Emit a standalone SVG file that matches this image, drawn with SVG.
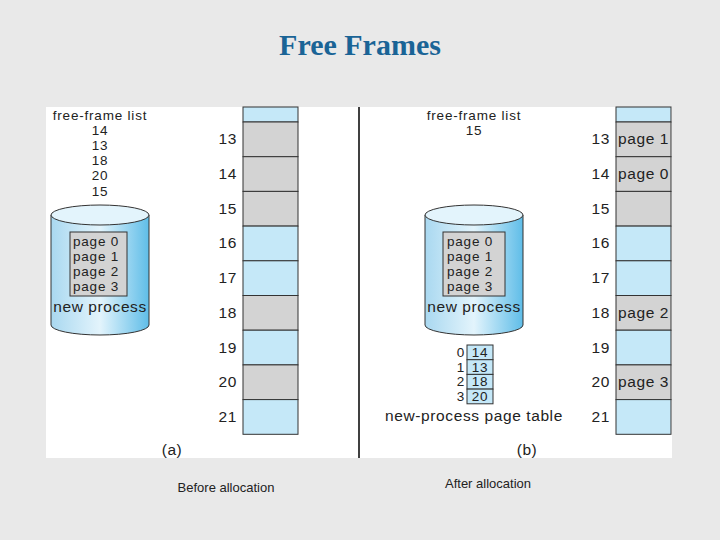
<svg xmlns="http://www.w3.org/2000/svg" width="720" height="540" viewBox="0 0 720 540">
<defs>
<linearGradient id="cyl" x1="0" x2="1" y1="0" y2="0">
<stop offset="0" stop-color="#a9d8f0"/><stop offset="0.5" stop-color="#e3f4fc"/><stop offset="1" stop-color="#5fbde8"/>
</linearGradient>
</defs>
<style>
text{font-family:"Liberation Sans",Arial,sans-serif;font-size:15.5px;letter-spacing:0.6px;fill:#222}
.c{text-anchor:middle}
.r{text-anchor:end}
.t{font-size:13.5px;letter-spacing:0.8px}
.g{fill:#d3d3d3;stroke:#333;stroke-width:1}
.b{fill:#c5e8f8;stroke:#333;stroke-width:1}
.s{font-size:13px;letter-spacing:0}
</style>
<rect width="720" height="540" fill="#e9e9e9"/>
<rect x="46" y="107" width="626" height="351" fill="#fff"/>
<text x="360" y="55" class="c" style="font-family:'Liberation Serif',serif;font-size:30px;letter-spacing:0;font-weight:bold;fill:#1a6496">Free Frames</text>
<g id="connectors"><line x1="359" y1="107" x2="359" y2="458" stroke="#000" stroke-width="1.5"/></g>
<g id="ffl-a"><text x="100" y="120" class="c t">free-frame list</text>
<text x="100" y="135" class="c t">14</text><text x="100" y="150" class="c t">13</text><text x="100" y="165" class="c t">18</text><text x="100" y="180" class="c t">20</text><text x="100" y="196" class="c t">15</text></g>
<g id="disk-a">
<path d="M51 215 V325 A49 10 0 0 0 149 325 V215 Z" fill="url(#cyl)" stroke="#333"/>
<ellipse cx="100" cy="215" rx="49" ry="10" fill="#e3f4fc" stroke="#333"/>
<rect x="70" y="232" width="57" height="64" fill="#d3d3d3" stroke="#333"/>
<text x="73" y="246" class="t">page 0</text><text x="73" y="261" class="t">page 1</text><text x="73" y="276" class="t">page 2</text><text x="73" y="291" class="t">page 3</text>
<text x="100" y="312" class="c">new process</text></g>
<g id="mem-a">
<rect x="243" y="107" width="55" height="15" class="b"/>
<rect x="243" y="122" width="55" height="34.7" class="g"/>
<rect x="243" y="156.7" width="55" height="34.7" class="g"/>
<rect x="243" y="191.4" width="55" height="34.7" class="g"/>
<rect x="243" y="226.1" width="55" height="34.7" class="b"/>
<rect x="243" y="260.8" width="55" height="34.7" class="b"/>
<rect x="243" y="295.5" width="55" height="34.7" class="g"/>
<rect x="243" y="330.2" width="55" height="34.7" class="b"/>
<rect x="243" y="364.9" width="55" height="34.7" class="g"/>
<rect x="243" y="399.6" width="55" height="34.7" class="b"/>
<text x="237" y="144" class="r">13</text><text x="237" y="179" class="r">14</text><text x="237" y="214" class="r">15</text><text x="237" y="248" class="r">16</text><text x="237" y="283" class="r">17</text><text x="237" y="318" class="r">18</text><text x="237" y="353" class="r">19</text><text x="237" y="387" class="r">20</text><text x="237" y="422" class="r">21</text>
</g>
<text x="172" y="455" class="c">(a)</text>
<g id="ffl-b"><text x="474" y="120" class="c t">free-frame list</text><text x="474" y="135" class="c t">15</text></g>
<g id="disk-b">
<path d="M425 215 V325 A49 10 0 0 0 523 325 V215 Z" fill="url(#cyl)" stroke="#333"/>
<ellipse cx="474" cy="215" rx="49" ry="10" fill="#e3f4fc" stroke="#333"/>
<rect x="443" y="232" width="62" height="64" fill="#d3d3d3" stroke="#333"/>
<text x="447" y="246" class="t">page 0</text><text x="447" y="261" class="t">page 1</text><text x="447" y="276" class="t">page 2</text><text x="447" y="291" class="t">page 3</text>
<text x="474" y="312" class="c">new process</text></g>
<g id="pt-b">
<rect x="467" y="345" width="26" height="14.7" class="b"/><rect x="467" y="359.7" width="26" height="14.7" class="b"/><rect x="467" y="374.4" width="26" height="14.7" class="b"/><rect x="467" y="389.1" width="26" height="14.7" class="b"/>
<text x="465" y="357" class="r t">0</text><text x="465" y="372" class="r t">1</text><text x="465" y="386" class="r t">2</text><text x="465" y="401" class="r t">3</text>
<text x="480" y="357" class="c t">14</text><text x="480" y="372" class="c t">13</text><text x="480" y="386" class="c t">18</text><text x="480" y="401" class="c t">20</text>
<text x="474" y="421" class="c">new-process page table</text></g>
<g id="mem-b">
<rect x="616" y="107" width="55" height="15" class="b"/>
<rect x="616" y="122" width="55" height="34.7" class="g"/>
<rect x="616" y="156.7" width="55" height="34.7" class="g"/>
<rect x="616" y="191.4" width="55" height="34.7" class="g"/>
<rect x="616" y="226.1" width="55" height="34.7" class="b"/>
<rect x="616" y="260.8" width="55" height="34.7" class="b"/>
<rect x="616" y="295.5" width="55" height="34.7" class="g"/>
<rect x="616" y="330.2" width="55" height="34.7" class="b"/>
<rect x="616" y="364.9" width="55" height="34.7" class="g"/>
<rect x="616" y="399.6" width="55" height="34.7" class="b"/>
<text x="610" y="144" class="r">13</text><text x="610" y="179" class="r">14</text><text x="610" y="214" class="r">15</text><text x="610" y="248" class="r">16</text><text x="610" y="283" class="r">17</text><text x="610" y="318" class="r">18</text><text x="610" y="353" class="r">19</text><text x="610" y="387" class="r">20</text><text x="610" y="422" class="r">21</text>
<text x="618" y="144">page 1</text><text x="618" y="179">page 0</text><text x="618" y="318">page 2</text><text x="618" y="387">page 3</text>
</g>
<text x="527" y="455" class="c">(b)</text>
<text x="226" y="492" class="c s">Before allocation</text>
<text x="488" y="488" class="c s">After allocation</text>
</svg>
